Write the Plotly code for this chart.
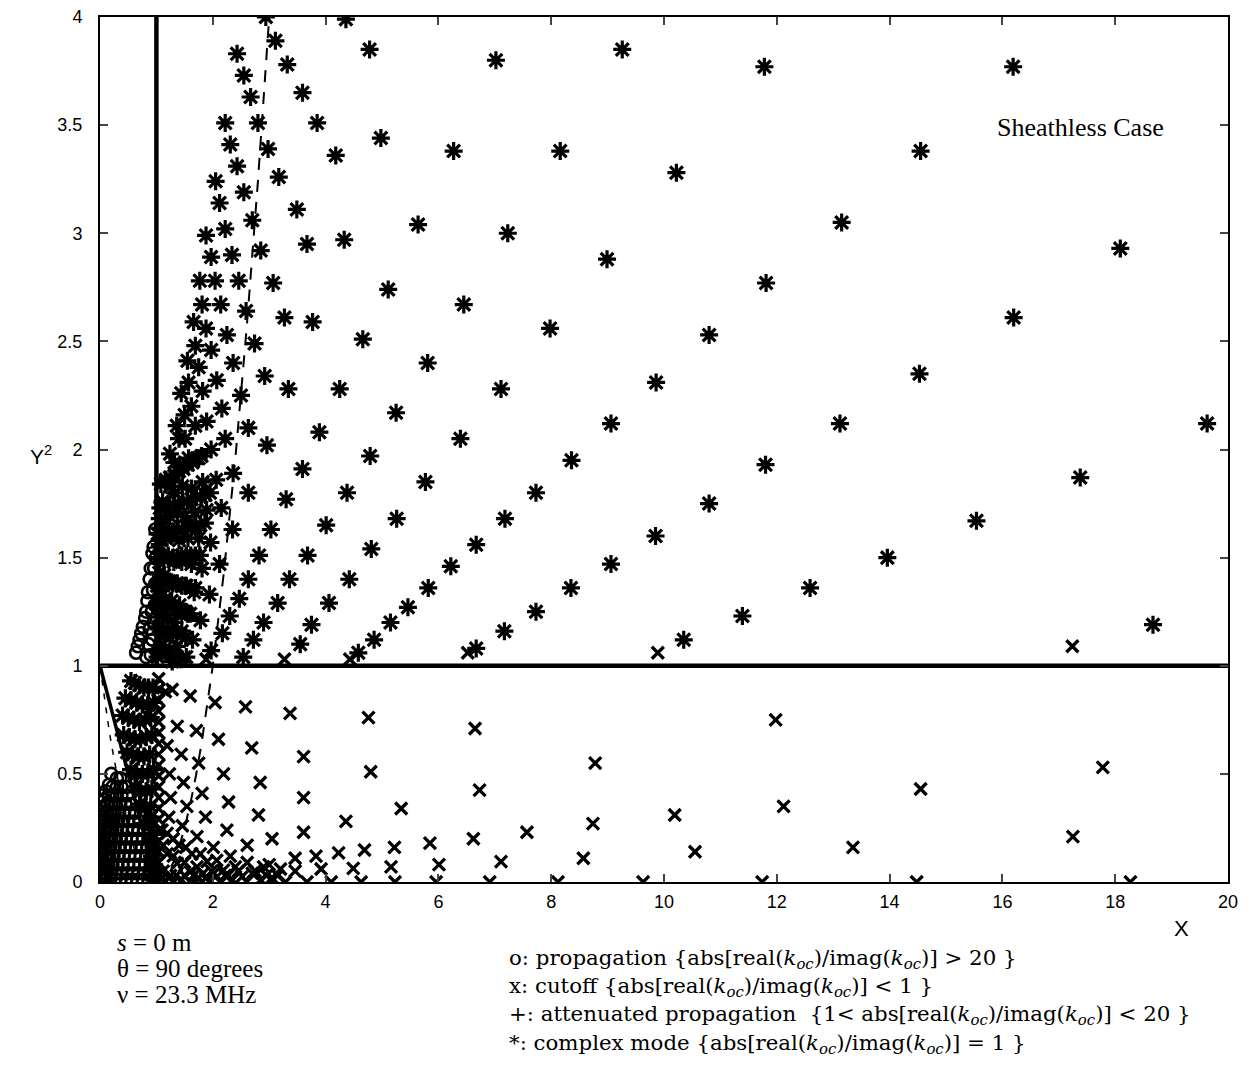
import plotly.graph_objects as go

# ---------------- data ----------------
x_ticks = [0, 2, 4, 6, 8, 10, 12, 14, 16, 18, 20]
y_ticks = [0, 0.5, 1, 1.5, 2, 2.5, 3, 3.5, 4]

# complex modes (*) - sparse part, X > ~3.4
star_far_x = [4.36, 4.78, 7.02, 9.26, 11.78, 3.59, 3.85, 4.98, 4.18, 6.27, 8.16, 10.22, 3.49, 3.67, 4.33,
              5.64, 7.23, 8.99, 11.81, 5.11, 6.45, 7.98, 10.80, 3.77, 4.66, 16.19, 14.55, 13.15, 18.09,
              16.20, 5.81, 4.25, 7.11, 9.86, 5.25, 3.89, 9.06, 6.39, 4.79, 3.59, 8.36, 11.80, 5.77, 4.38,
              7.73, 10.80, 4.01, 5.26, 7.18, 9.85, 3.68, 4.81, 6.67, 9.06, 4.42, 6.22, 8.35, 4.06, 5.82,
              3.75, 5.46, 7.73, 5.15, 4.86, 7.17, 11.39, 10.35, 4.58, 6.67, 3.55, 13.12, 14.53, 19.63,
              17.38, 15.54, 13.96, 12.59, 18.67]
star_far_y = [3.99, 3.85, 3.80, 3.85, 3.77, 3.65, 3.51, 3.44, 3.36, 3.38, 3.38, 3.28, 3.11, 2.95, 2.97,
              3.04, 3.00, 2.88, 2.77, 2.74, 2.67, 2.56, 2.53, 2.59, 2.51, 3.77, 3.38, 3.05, 2.93,
              2.61, 2.40, 2.28, 2.28, 2.31, 2.17, 2.08, 2.12, 2.05, 1.97, 1.91, 1.95, 1.93, 1.85, 1.80,
              1.80, 1.75, 1.65, 1.68, 1.68, 1.60, 1.51, 1.54, 1.56, 1.47, 1.40, 1.46, 1.36, 1.29, 1.36,
              1.19, 1.27, 1.25, 1.20, 1.12, 1.16, 1.23, 1.12, 1.06, 1.08, 1.10, 2.12, 2.35, 2.12,
              1.87, 1.67, 1.50, 1.36, 1.19]

# complex modes (*) - dense fan along rays, 1 < X < 3.4, Y^2 > 1
star_fan_x = [2.43, 2.22, 2.05, 1.88, 1.77, 1.66, 1.55, 1.44, 1.36, 1.24, 1.17, 1.11, 1.06, 1.02,
              2.55, 2.31, 2.12, 1.97, 1.81, 1.69, 1.57, 1.50, 1.40, 1.32, 1.24, 1.17, 1.11, 1.06, 1.02,
              2.94, 2.67, 2.43, 2.22, 2.04, 1.88, 1.75, 1.62, 1.51, 1.41, 1.32, 1.24, 1.17, 1.11, 1.05, 1.01,
              3.11, 2.80, 2.55, 2.34, 2.14, 1.97, 1.82, 1.69, 1.57, 1.46, 1.37, 1.29, 1.21, 1.14, 1.08, 1.03,
              3.32, 2.98, 2.70, 2.46, 2.25, 2.07, 1.89, 1.75, 1.62, 1.50, 1.40, 1.31, 1.23, 1.16, 1.10, 1.04,
              3.17, 2.85, 2.59, 2.36, 2.16, 1.97, 1.82, 1.68, 1.56, 1.45, 1.36, 1.27, 1.20, 1.13, 1.07, 1.02,
              3.07, 2.74, 2.50, 2.22, 2.06, 1.89, 1.75, 1.62, 1.51, 1.41, 1.32, 1.24, 1.17,
              3.27, 2.92, 2.63, 2.36, 2.15, 1.96, 1.81, 1.67, 1.55, 1.45, 1.36, 1.28,
              3.34, 2.96, 2.63, 2.35, 2.12, 1.94, 1.78, 1.64, 1.53,
              3.30, 3.03, 2.82, 2.63, 2.47, 2.30, 2.17, 1.97,
              3.36, 3.15, 2.90, 2.72, 2.54]
star_fan_y = [3.83, 3.51, 3.24, 2.99, 2.78, 2.59, 2.41, 2.26, 2.11, 1.98, 1.86, 1.76, 1.68, 1.61,
              3.73, 3.41, 3.14, 2.89, 2.67, 2.48, 2.31, 2.16, 2.05, 1.94, 1.83, 1.73, 1.64, 1.56, 1.50,
              4.00, 3.63, 3.31, 3.02, 2.78, 2.56, 2.38, 2.20, 2.05, 1.92, 1.80, 1.69, 1.59, 1.50, 1.43, 1.37,
              3.89, 3.51, 3.19, 2.90, 2.67, 2.46, 2.27, 2.11, 1.96, 1.83, 1.71, 1.61, 1.51, 1.42, 1.35, 1.29,
              3.78, 3.39, 3.06, 2.78, 2.53, 2.32, 2.13, 1.96, 1.82, 1.69, 1.58, 1.48, 1.39, 1.31, 1.24, 1.18,
              3.26, 2.92, 2.64, 2.40, 2.19, 2.00, 1.85, 1.71, 1.59, 1.48, 1.38, 1.30, 1.22, 1.15, 1.09, 1.04,
              2.77, 2.49, 2.25, 2.05, 1.86, 1.72, 1.59, 1.47, 1.37, 1.28, 1.20, 1.13, 1.06,
              2.61, 2.34, 2.10, 1.89, 1.73, 1.57, 1.45, 1.34, 1.24, 1.16, 1.09, 1.02,
              2.28, 2.02, 1.80, 1.63, 1.47, 1.33, 1.21, 1.12, 1.04,
              1.77, 1.63, 1.51, 1.40, 1.31, 1.23, 1.15, 1.07,
              1.40, 1.29, 1.20, 1.12, 1.04]

# complex modes (*) - the near-horizontal strings next to X = 1
star_row_x = [1.08, 1.16, 1.24, 1.32, 1.40, 1.48, 1.56, 1.64, 1.72, 1.80,
              1.07, 1.15, 1.23, 1.31, 1.39, 1.47, 1.55, 1.63, 1.71, 1.79, 1.87, 1.95,
              1.06, 1.14, 1.22, 1.30, 1.38, 1.46, 1.54, 1.62, 1.70, 1.78, 1.86,
              1.05, 1.13, 1.21, 1.29, 1.37, 1.45, 1.53, 1.61, 1.69, 1.77,
              1.05, 1.13, 1.21, 1.29, 1.37, 1.45, 1.53, 1.61, 1.69,
              1.04, 1.12, 1.20, 1.28, 1.36, 1.44, 1.52, 1.60,
              1.04, 1.12, 1.20, 1.28, 1.36, 1.44, 1.52,
              1.04, 1.12, 1.20, 1.28, 1.36, 1.44]
star_row_y = [1.84, 1.85, 1.87, 1.88, 1.90, 1.91, 1.93, 1.94, 1.96, 1.97,
              1.73, 1.73, 1.74, 1.74, 1.75, 1.76, 1.76, 1.77, 1.78, 1.78, 1.79, 1.80,
              1.61, 1.61, 1.62, 1.62, 1.63, 1.63, 1.64, 1.64, 1.65, 1.65, 1.66,
              1.50, 1.50, 1.50, 1.50, 1.50, 1.51, 1.51, 1.51, 1.51, 1.51,
              1.39, 1.39, 1.38, 1.38, 1.38, 1.37, 1.37, 1.36, 1.36,
              1.28, 1.28, 1.27, 1.27, 1.26, 1.25, 1.25, 1.24,
              1.17, 1.17, 1.16, 1.15, 1.15, 1.14, 1.13,
              1.07, 1.07, 1.06, 1.05, 1.04, 1.03]

# complex modes (*) below Y^2 = 1, X < 1
star_low_x = [0.55, 0.62, 0.70, 0.78, 0.86, 0.94,
              0.45, 0.55, 0.65, 0.75, 0.85, 0.95,
              0.40, 0.50, 0.60, 0.70, 0.80, 0.90,
              0.42, 0.52, 0.62, 0.72, 0.82, 0.92,
              0.48, 0.58, 0.68, 0.78, 0.88,
              0.55, 0.65, 0.75, 0.85, 0.95,
              0.62, 0.72, 0.82, 0.92,
              0.70, 0.80, 0.90,
              0.78, 0.88,
              0.93, 0.95, 0.92, 0.96, 0.91, 0.94, 0.90, 0.95, 0.92, 0.96]
star_low_y = [0.93, 0.92, 0.91, 0.90, 0.90, 0.90,
              0.85, 0.84, 0.83, 0.82, 0.82, 0.83,
              0.77, 0.76, 0.75, 0.74, 0.75, 0.76,
              0.68, 0.67, 0.66, 0.66, 0.67, 0.68,
              0.60, 0.59, 0.58, 0.58, 0.59,
              0.52, 0.50, 0.50, 0.50, 0.52,
              0.44, 0.42, 0.42, 0.43,
              0.36, 0.34, 0.35,
              0.27, 0.26,
              0.20, 0.16, 0.12, 0.08, 0.05, 0.22, 0.30, 0.03, 0.14, 0.01]

# propagation (o)
circ_x = [0.98, 0.95, 0.93, 0.90, 0.88, 0.85, 0.84, 0.82, 0.80, 0.76, 0.73, 0.70, 0.67, 0.64,
          0.99, 0.98, 0.97, 0.95, 0.93, 0.90, 0.96, 0.94, 0.92, 0.88, 0.86, 0.82,
          0.20, 0.30, 0.36,
          0.16, 0.22, 0.30, 0.38, 0.46,
          0.10, 0.15, 0.22, 0.30, 0.38, 0.48,
          0.08, 0.12, 0.20, 0.28, 0.36, 0.45, 0.55,
          0.06, 0.10, 0.18, 0.26, 0.34, 0.43, 0.52, 0.62,
          0.05, 0.08, 0.16, 0.24, 0.32, 0.41, 0.50, 0.60, 0.70,
          0.04, 0.07, 0.14, 0.22, 0.30, 0.39, 0.48, 0.58, 0.68, 0.78,
          0.03, 0.06, 0.12, 0.20, 0.28, 0.37, 0.46, 0.56, 0.66, 0.76, 0.86,
          0.02, 0.05, 0.10, 0.18, 0.26, 0.35, 0.44, 0.54, 0.64, 0.74, 0.84, 0.94,
          0.02, 0.04, 0.09, 0.16, 0.24, 0.33, 0.42, 0.52, 0.62, 0.72, 0.82, 0.92,
          0.01, 0.03, 0.08, 0.14, 0.22, 0.31, 0.40, 0.50, 0.60, 0.70, 0.80, 0.90,
          0.01, 0.02, 0.07, 0.12, 0.20, 0.29, 0.38, 0.48, 0.58, 0.68, 0.78, 0.88, 0.98,
          0.01, 0.02, 0.06, 0.11, 0.18, 0.27, 0.36, 0.46, 0.56, 0.66, 0.76, 0.86, 0.96,
          0.04, 0.05, 0.06, 0.08, 0.11, 0.03, 0.13, 0.16, 0.09, 0.12]
circ_y = [1.63, 1.55, 1.52, 1.45, 1.40, 1.34, 1.30, 1.25, 1.22, 1.18, 1.15, 1.12, 1.09, 1.06,
          1.50, 1.38, 1.28, 1.20, 1.12, 1.05, 1.45, 1.35, 1.25, 1.17, 1.10, 1.04,
          0.50, 0.48, 0.48,
          0.45, 0.44, 0.44, 0.44, 0.44,
          0.42, 0.40, 0.40, 0.40, 0.40, 0.40,
          0.38, 0.36, 0.36, 0.36, 0.36, 0.36, 0.36,
          0.34, 0.32, 0.32, 0.32, 0.32, 0.32, 0.32, 0.32,
          0.30, 0.28, 0.28, 0.28, 0.28, 0.28, 0.28, 0.28, 0.28,
          0.26, 0.24, 0.24, 0.24, 0.24, 0.24, 0.24, 0.24, 0.24, 0.24,
          0.22, 0.20, 0.20, 0.20, 0.20, 0.20, 0.20, 0.20, 0.20, 0.20, 0.20,
          0.18, 0.16, 0.16, 0.16, 0.16, 0.16, 0.16, 0.16, 0.16, 0.16, 0.16, 0.16,
          0.14, 0.12, 0.12, 0.12, 0.12, 0.12, 0.12, 0.12, 0.12, 0.12, 0.12, 0.12,
          0.10, 0.08, 0.08, 0.08, 0.08, 0.08, 0.08, 0.08, 0.08, 0.08, 0.08, 0.08,
          0.06, 0.04, 0.04, 0.04, 0.04, 0.04, 0.04, 0.04, 0.04, 0.04, 0.04, 0.04, 0.04,
          0.02, 0.01, 0.01, 0.01, 0.01, 0.01, 0.01, 0.01, 0.01, 0.01, 0.01, 0.01, 0.01,
          0.30, 0.22, 0.14, 0.06, 0.02, 0.40, 0.26, 0.30, 0.18, 0.06]

# cutoff (x)
cut_x = [1.50, 1.88, 3.27, 4.43, 6.52, 9.89, 17.24,
         1.04, 1.04, 1.04, 1.04, 1.04, 1.04, 1.04, 1.04, 1.04, 1.04, 1.04, 1.04, 1.04, 1.04, 1.04,
         1.04, 1.04, 1.04, 1.04,
         1.16, 1.28, 1.60, 2.04, 2.58, 3.37,
         1.37, 1.71, 2.10, 2.69,
         1.19, 1.44, 1.75, 2.19, 2.84,
         1.23, 1.48, 1.81, 2.28, 2.81,
         1.25, 1.54, 1.87, 2.25, 3.05, 2.61,
         1.22, 1.46, 1.72, 2.01, 2.31, 2.61, 2.90, 3.20,
         1.19, 1.40, 1.63, 1.90, 2.19, 2.52,
         1.19, 1.37, 1.60, 1.87,
         1.15, 1.30, 1.45, 1.60, 1.75, 1.95, 2.13, 2.35, 2.60, 2.85, 3.05, 1.12, 1.25,
         1.10, 1.22, 1.35, 1.50, 1.66, 1.83, 2.02, 2.22, 2.45, 2.70, 2.95, 3.15,
         1.12, 1.30, 1.50, 1.72, 1.98, 2.27,
         1.10, 1.30, 1.52, 1.78, 2.07, 2.40, 2.75, 3.00,
         4.76, 6.65, 3.61, 4.80, 6.73, 8.78, 3.61, 5.34, 8.74, 10.19, 3.61, 4.36, 5.22, 5.85,
         6.62, 7.57, 8.57, 10.55, 3.46, 3.83, 4.23, 4.69, 3.46, 3.92, 4.49, 5.16, 6.01, 7.11,
         3.29, 3.67, 4.10, 4.63, 5.23, 5.96, 6.91, 8.12, 9.63,
         11.98, 12.12, 13.35, 14.55, 17.25, 17.78, 11.74, 14.48, 18.27]
cut_y = [1.04, 1.03, 1.03, 1.03, 1.06, 1.06, 1.09,
         0.04, 0.09, 0.14, 0.19, 0.24, 0.29, 0.34, 0.39, 0.44, 0.49, 0.54, 0.59, 0.64, 0.69, 0.74,
         0.79, 0.84, 0.89, 0.94,
         0.88, 0.89, 0.86, 0.83, 0.81, 0.78,
         0.72, 0.70, 0.66, 0.62,
         0.63, 0.59, 0.55, 0.50, 0.46,
         0.50, 0.46, 0.41, 0.37, 0.31,
         0.39, 0.35, 0.30, 0.24, 0.20, 0.17,
         0.30, 0.26, 0.21, 0.16, 0.12, 0.09, 0.07, 0.06,
         0.225, 0.17, 0.13, 0.094, 0.055, 0.025,
         0.13, 0.086, 0.048, 0.017,
         0.0, 0.0, 0.01, 0.0, 0.02, 0.0, 0.0, 0.01, 0.0, 0.01, 0.02, 0.05, 0.03,
         0.02, 0.02, 0.03, 0.03, 0.03, 0.04, 0.04, 0.03, 0.05, 0.04, 0.03, 0.03,
         0.17, 0.12, 0.09, 0.07, 0.05, 0.03,
         0.24, 0.20, 0.16, 0.13, 0.10, 0.07, 0.05, 0.08,
         0.76, 0.71, 0.58, 0.51, 0.425, 0.55, 0.39, 0.34, 0.27, 0.31, 0.23, 0.28, 0.16, 0.18,
         0.20, 0.23, 0.11, 0.14, 0.11, 0.12, 0.135, 0.148, 0.05, 0.06, 0.063, 0.07, 0.08, 0.094,
         0.0, 0.0, 0.0, 0.0, 0.0, 0.0, 0.0, 0.0, 0.0,
         0.75, 0.35, 0.16, 0.43, 0.21, 0.53, 0.0, 0.0, 0.0]

# boundary curves
hline_x = [0, 20]
hline_y = [1, 1]
vline_x = [1, 1]
vline_y = [1, 4]
uh_x = [0, 1]
uh_y = [1, 0]
lcut_x = [1.0, 1.1, 1.2, 1.3, 1.4, 1.5, 1.6, 1.7, 1.8, 1.9, 2.0, 2.2, 2.4, 2.6, 2.8, 3.0]
lcut_y = [0.0, 0.01, 0.04, 0.09, 0.16, 0.25, 0.36, 0.49, 0.64, 0.81, 1.0, 1.44, 1.96, 2.56, 3.24, 4.0]
rcut_x = [0.0, 0.05, 0.1, 0.15, 0.2, 0.3, 0.4, 0.5, 0.6, 0.7, 0.8, 0.9, 1.0]
rcut_y = [1.0, 0.9025, 0.81, 0.7225, 0.64, 0.49, 0.36, 0.25, 0.16, 0.09, 0.04, 0.01, 0.0]

# ---------------- figure ----------------
fig = go.Figure()

def add_line(x, y, width, dash="solid"):
    fig.add_trace(go.Scatter(x=x, y=y, mode="lines", showlegend=False, hoverinfo="skip",
                             line=dict(color="black", width=width, dash=dash)))

add_line(hline_x, hline_y, 4.5)
add_line(vline_x, vline_y, 4.5)
add_line(uh_x, uh_y, 3.5)
add_line(lcut_x, lcut_y, 2, "12px,10px")
add_line(rcut_x, rcut_y, 1.5, "6px,8px")

def add_markers(x, y, symbol, size, lw):
    fig.add_trace(go.Scatter(x=x, y=y, mode="markers", showlegend=False,
                             marker=dict(symbol=symbol, size=size, color="black",
                                         line=dict(color="black", width=lw))))

add_markers(circ_x, circ_y, "circle-open", 12, 2.6)
add_markers(cut_x, cut_y, "x-thin-open", 12, 3.3)
add_markers(star_far_x + star_fan_x + star_row_x + star_low_x,
            star_far_y + star_fan_y + star_row_y + star_low_y,
            "asterisk-open", 15, 3.2)

axis_font = dict(family="Liberation Sans, Arial, sans-serif", size=18, color="black")
fig.update_xaxes(range=[0, 20], tickvals=x_ticks, ticks="inside", ticklen=8, tickwidth=2,
                 showline=True, linewidth=2, linecolor="black", mirror="ticks", showgrid=False,
                 zeroline=False, tickfont=axis_font, ticklabelstandoff=2, automargin=False,
                 ticklabeloverflow="allow")
fig.update_yaxes(range=[0, 4], tickvals=y_ticks, ticks="inside", ticklen=8, tickwidth=2,
                 showline=True, linewidth=2, linecolor="black", mirror="ticks", showgrid=False,
                 zeroline=False, tickfont=axis_font, ticklabelstandoff=12, automargin=False,
                 ticklabeloverflow="allow")

serif = "Liberation Serif, Times New Roman, serif"
wide_serif = "DejaVu Serif, Liberation Serif, serif"
sans = "Liberation Sans, Arial, sans-serif"
ann = []
def txt(x, y, t, fam, size, xa="left"):
    ann.append(dict(x=x, y=y, xref="paper", yref="paper", text=t, showarrow=False,
                    xanchor=xa, yanchor="middle", font=dict(family=fam, size=size, color="black")))

# page has an 8px body margin: the figure is made 8px smaller and the plot area placed
# so that it lands at x 100..1228, y 17..882 of the window
px = lambda p: (p - 100) / 1128.0
py = lambda p: (882 - p) / 865.0
koc = "<i>k</i><sub><i>oc</i></sub>"
txt(px(41), py(455), "Y<sup>2</sup>", sans, 21, "center")
txt(px(1181), py(928), "X", sans, 22, "center")
txt(px(1080), py(128), "Sheathless Case", serif, 26, "center")
txt(px(115), py(942), "<i>s</i> = 0 m", serif, 25)
txt(px(115), py(968), "\u03b8 = 90 degrees", serif, 25)
txt(px(115), py(994), "\u03bd = 23.3 MHz", serif, 25)
txt(px(507), py(959), "o: propagation {abs[real(" + koc + ")/imag(" + koc + ")] > 20 }", wide_serif, 21.3)
txt(px(507), py(987), "x: cutoff {abs[real(" + koc + ")/imag(" + koc + ")] < 1 }", wide_serif, 21.3)
txt(px(507), py(1015), "+: attenuated propagation&nbsp;&nbsp;{1&lt; abs[real(" + koc + ")/imag(" + koc + ")] &lt; 20 }", wide_serif, 21.3)
txt(px(507), py(1044), "*: complex mode {abs[real(" + koc + ")/imag(" + koc + ")] = 1 }", wide_serif, 21.3)

fig.update_layout(width=1241, height=1057, margin=dict(l=92, r=21, t=9, b=183),
                  plot_bgcolor="white", paper_bgcolor="white", showlegend=False,
                  annotations=ann)

fig.write_html("out.html")
